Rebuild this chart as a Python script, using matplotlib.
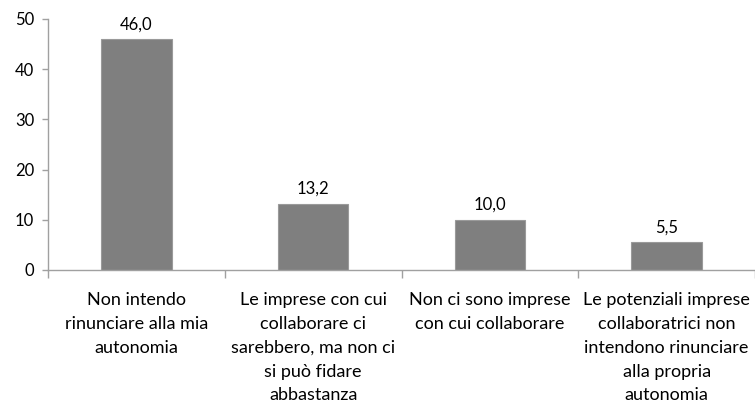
import matplotlib
matplotlib.use("Agg")
import matplotlib.pyplot as plt
import numpy as np

categories = [
    "Non intendo\nrinunciare alla mia\nautonomia",
    "Le imprese con cui\ncollaborare ci\nsarebbero, ma non ci\nsi può fidare\nabbastanza",
    "Non ci sono imprese\ncon cui collaborare",
    "Le potenziali imprese\ncollaboratrici non\nintendono rinunciare\nalla propria\nautonomia",
]
values = [46.0, 13.2, 10.0, 5.5]
yticks = [0, 10, 20, 30, 40, 50]

plt.rcParams['font.family'] = ['Lato', 'DejaVu Sans']

fig = plt.figure(figsize=(7.55, 4.05), dpi=100)
ax = fig.add_axes([48/755, 1-270/405, 1-48/755, (270-19)/405])

x = np.arange(len(values))
ax.bar(x, values, width=0.4, color='#7f7f7f', edgecolor='#9a9a9a', linewidth=0.8)
for xi, v in zip(x, values):
    ax.annotate(f"{v:.1f}".replace('.', ','), (xi, v), xytext=(0, 5),
                textcoords='offset points', ha='center', va='bottom', fontsize=12, color='#000000')

ax.set_xlim(-0.5, len(values) - 0.5)
ax.set_ylim(0, 50)
ax.set_yticks(yticks)
ax.set_yticklabels([str(t) for t in yticks], fontsize=12)

ax.set_xticks(x)
ax.set_xticklabels(categories, fontsize=13, linespacing=1.6)
ax.tick_params(axis='x', length=0, pad=16)
ax.set_xticks(np.arange(len(values) + 1) - 0.5, minor=True)
ax.tick_params(axis='x', which='minor', length=6, color='#a0a0a0', width=1)
ax.tick_params(axis='y', length=4, color='#a0a0a0', width=1, pad=6)

for s in ['top', 'right']:
    ax.spines[s].set_visible(False)
for s in ['left', 'bottom']:
    ax.spines[s].set_color('#a0a0a0')
    ax.spines[s].set_linewidth(1)

fig.savefig("out.png", dpi=100)
